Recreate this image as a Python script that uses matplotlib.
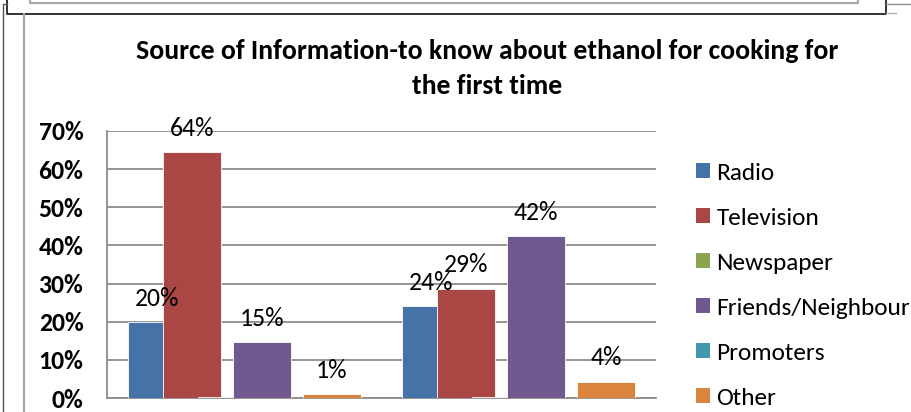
import matplotlib
matplotlib.use('Agg')
import matplotlib.pyplot as plt
from matplotlib import font_manager as fm
from matplotlib.lines import Line2D
import numpy as np

# data
sources = ['Radio', 'Television', 'Newspaper', 'Friends/Neighbours', 'Promoters', 'Other']
group1 = [0.20, 0.644, 0.003, 0.146, 0.0, 0.011]
group2 = [0.241, 0.287, 0.002, 0.424, 0.0, 0.043]
colors = ['#4572A7', '#AA4643', '#89A54E', '#71588F', '#4198AF', '#DB843D']
yticks = [0, 0.1, 0.2, 0.3, 0.4, 0.5, 0.6, 0.7]
title1 = 'Source of Information-to know about ethanol for cooking for'
title2 = 'the first time'


def pick(cands):
    for c in cands:
        try:
            fm.findfont(fm.FontProperties(family=c), fallback_to_default=False)
            return c
        except ValueError:
            pass
    return 'DejaVu Sans'


font = pick(['Carlito', 'Liberation Sans Narrow', 'Roboto Condensed', 'Lato', 'Roboto'])
plt.rcParams['font.family'] = [font, 'DejaVu Sans']

W, H = 912, 412
fig = plt.figure(figsize=(W / 100, H / 100), dpi=100)


def fx(x):
    return x / W


def fy(y):
    return 1 - y / H


# page decorations around the chart (word doc screenshot)
def pline(xs, ys, color, lw):
    fig.add_artist(Line2D([fx(v) for v in xs], [fy(v) for v in ys],
                          transform=fig.transFigure, color=color, lw=lw))


pline([7, 7, 886, 886], [0, 14, 14, 0], '#222222', 1.3)
pline([30, 30, 858, 858], [0, 3, 3, 0], '#a8a8a8', 1.6)
pline([3, 3, 7], [412, 4, 4], '#555555', 1.0)
pline([24, 24], [14, 412], '#a8a8a8', 1.6)
pline([886, 912], [4, 4], '#909090', 1.0)
pline([886, 896], [13, 13], '#b0b0b0', 1.0)

# plot area
ax = fig.add_axes([fx(107), fy(398), fx(656) - fx(107), fy(131) - fy(398)])
ax.set_xlim(-0.5, 1.5)
ax.set_ylim(0, 0.7)

step = 0.1275
width = 0.211
x = np.arange(2)
for i, name in enumerate(sources):
    vals = [group1[i], group2[i]]
    pos = x + (i - 2.5) * step
    bars = ax.bar(pos, vals, width, color=colors[i], label=name,
                  edgecolor='#ffffff', linewidth=0.6, zorder=3)
    for b, v in zip(bars, vals):
        if round(v * 100) >= 1:
            ax.annotate(f'{v:.0%}', (b.get_x() + b.get_width() / 2, v),
                        xytext=(0, 17), textcoords='offset points',
                        ha='center', va='center', fontsize=18.5, zorder=4)

ax.set_yticks(yticks)
ax.set_yticklabels([f'{t:.0%}' for t in yticks], fontsize=18.5, fontweight='bold')
ax.tick_params(axis='y', length=0, pad=17)
ax.set_xticks([])
ax.yaxis.grid(True, color='#8c8c8c', lw=1.3, zorder=0)
for s in ['top', 'right']:
    ax.spines[s].set_visible(False)
for s in ['left', 'bottom']:
    ax.spines[s].set_color('#8c8c8c')
    ax.spines[s].set_linewidth(1.3)

fig.text(fx(487), fy(59), title1, ha='center', va='baseline', fontsize=20, fontweight='bold')
fig.text(fx(487), fy(94), title2, ha='center', va='baseline', fontsize=20, fontweight='bold')

leg = ax.legend(loc='upper left', bbox_to_anchor=(fx(696), fy(162.5)),
                bbox_transform=fig.transFigure, frameon=False, fontsize=18.3,
                handlelength=0.55, handleheight=0.55, handletextpad=0.25,
                labelspacing=0.945, borderaxespad=0, borderpad=0)
for h in leg.legend_handles:
    h.set_edgecolor('none')

fig.savefig('out.png', dpi=100)
